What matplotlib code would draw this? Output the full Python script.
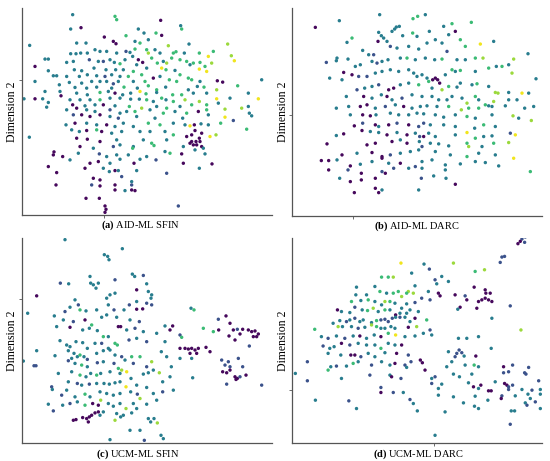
import matplotlib
matplotlib.use("Agg")
from matplotlib import pyplot as plt
import numpy as np

plt.rcParams['font.family'] = ['Liberation Serif', 'DejaVu Serif']
plt.rcParams['mathtext.fontset'] = 'custom'
plt.rcParams['mathtext.rm'] = 'Liberation Serif'
plt.rcParams['mathtext.bf'] = 'Liberation Serif:bold'

# class code -> position on the viridis scale
class_value = {'P': 0.02, 'B': 0.25, 'T': 0.42, 'G': 0.68, 'L': 0.85, 'Y': 0.98}

titles = ['(a)', '(b)', '(c)', '(d)']
names = ['AID-ML SFIN', 'AID-ML DARC', 'UCM-ML SFIN', 'UCM-ML DARC']

aid_sfin = [
    (218,45,'T'),(345,50,'G'),(350,60,'G'),(482,62,'P'),(212,88,'T'),(243,84,'P'),(415,88,'T'),(432,100,'T'),
    (542,78,'T'),(545,88,'G'),(468,100,'G'),(485,107,'P'),(378,108,'G'),(313,112,'P'),(340,125,'P'),(348,132,'P'),
    (89,137,'T'),(230,130,'T'),(258,130,'T'),(405,125,'T'),(420,130,'G'),(445,120,'T'),(505,138,'L'),(567,133,'T'),
    (683,133,'L'),(285,150,'T'),(300,155,'T'),(320,155,'T'),(262,160,'T'),(242,160,'T'),(228,162,'T'),(212,162,'T'),
    (350,160,'T'),(378,155,'B'),(390,158,'T'),(405,148,'G'),(445,160,'L'),(440,150,'G'),(465,150,'T'),(480,160,'T'),
    (520,160,'G'),(528,156,'G'),(553,160,'T'),(598,160,'G'),(640,155,'G'),(625,170,'Y'),(694,168,'L'),(703,183,'Y'),
    (135,178,'T'),(145,178,'T'),(200,188,'T'),(220,185,'T'),(268,180,'B'),(295,185,'T'),(310,185,'B'),(330,180,'T'),
    (343,188,'T'),(360,192,'G'),(375,180,'T'),(398,170,'T'),(415,180,'P'),(428,188,'P'),(410,195,'T'),(455,175,'G'),
    (472,190,'G'),(490,185,'T'),(500,190,'L'),(515,175,'G'),(540,180,'G'),(560,185,'G'),(580,190,'G'),(600,188,'G'),
    (635,190,'L'),(105,200,'P'),(570,195,'T'),(223,210,'T'),(245,213,'T'),(282,205,'T'),(318,210,'T'),(347,210,'T'),
    (370,210,'T'),(400,215,'G'),(440,205,'T'),(485,205,'Y'),(498,210,'G'),(525,212,'T'),(598,208,'Y'),(620,215,'Y'),
    (615,200,'G'),(160,228,'T'),(170,228,'T'),(145,213,'T'),(200,230,'T'),(238,230,'T'),(262,225,'T'),(290,228,'T'),
    (315,230,'B'),(335,225,'T'),(360,230,'T'),(385,230,'G'),(425,225,'G'),(460,235,'P'),(480,230,'T'),(508,240,'G'),
    (540,225,'G'),(565,235,'G'),(575,240,'G'),(600,245,'T'),(105,245,'T'),(208,248,'T'),(245,250,'T'),(275,245,'T'),
    (300,245,'T'),(320,245,'T'),(340,252,'B'),(355,245,'T'),(400,245,'T'),(435,245,'G'),(530,245,'G'),(652,243,'P'),
    (668,247,'P'),(785,240,'T'),(178,255,'T'),(225,263,'T'),(260,265,'T'),(290,262,'T'),(335,265,'T'),(372,262,'G'),
    (412,265,'T'),(445,258,'G'),(497,262,'T'),(470,270,'G'),(592,260,'T'),(612,262,'G'),(713,258,'G'),(135,275,'T'),
    (180,275,'T'),(230,280,'T'),(262,285,'T'),(300,278,'G'),(325,275,'T'),(345,280,'P'),(368,285,'T'),(392,280,'T'),
    (420,275,'Y'),(438,282,'G'),(470,278,'T'),(485,295,'G'),(518,285,'G'),(545,285,'G'),(565,270,'T'),(580,280,'T'),
    (620,280,'T'),(650,270,'L'),(745,280,'T'),(72,297,'T'),(105,297,'P'),(128,297,'T'),(183,288,'P'),(210,300,'T'),
    (240,300,'T'),(270,300,'T'),(300,300,'G'),(330,295,'T'),(360,295,'T'),(392,298,'T'),(418,298,'T'),(440,300,'G'),
    (460,305,'T'),(498,300,'T'),(520,305,'G'),(555,300,'L'),(598,305,'L'),(650,297,'Y'),(690,295,'T'),(775,297,'Y'),
    (145,308,'T'),(218,315,'P'),(255,318,'T'),(285,315,'T'),(310,315,'P'),(345,318,'T'),(388,320,'G'),(425,325,'L'),
    (470,320,'T'),(500,325,'G'),(540,320,'T'),(575,315,'G'),(620,315,'G'),(655,310,'T'),(725,325,'L'),(745,320,'T'),
    (140,322,'T'),(200,330,'T'),(230,325,'P'),(260,330,'T'),(285,335,'T'),(330,330,'B'),(360,340,'T'),(380,335,'T'),
    (405,335,'G'),(450,330,'T'),(490,340,'G'),(525,335,'T'),(560,340,'G'),(595,335,'P'),(620,330,'G'),(675,328,'L'),
    (748,340,'T'),(220,345,'B'),(245,345,'P'),(270,350,'P'),(300,345,'P'),(330,350,'T'),(355,355,'B'),(410,350,'T'),
    (465,355,'T'),(548,355,'T'),(625,345,'T'),(675,352,'Y'),(755,348,'T'),(198,375,'T'),(225,370,'P'),(260,370,'T'),
    (290,375,'T'),(320,375,'P'),(345,380,'T'),(370,370,'T'),(400,380,'T'),(445,370,'G'),(480,375,'G'),(520,370,'T'),
    (555,375,'T'),(570,378,'Y'),(583,375,'P'),(603,372,'T'),(625,375,'T'),(662,370,'G'),(700,362,'B'),(740,388,'G'),
    (88,412,'T'),(215,390,'T'),(238,395,'T'),(260,392,'P'),(290,390,'G'),(305,395,'P'),(335,400,'T'),(365,395,'T'),
    (420,395,'T'),(450,395,'T'),(495,395,'T'),(520,405,'G'),(560,410,'P'),(575,405,'P'),(585,392,'P'),(598,415,'P'),
    (605,400,'P'),(630,410,'Y'),(648,405,'L'),(230,415,'P'),(262,418,'P'),(300,425,'P'),(350,420,'T'),(400,440,'T'),
    (430,420,'T'),(455,430,'G'),(462,437,'G'),(500,420,'T'),(570,430,'P'),(580,435,'P'),(590,435,'P'),(575,425,'P'),
    (588,425,'P'),(605,440,'P'),(600,425,'P'),(240,440,'P'),(280,445,'T'),(340,440,'B'),(360,435,'T'),(398,445,'G'),
    (495,455,'T'),(510,460,'G'),(550,440,'T'),(585,450,'T'),(610,445,'T'),(162,456,'P'),(188,470,'P'),(160,465,'P'),
    (235,460,'T'),(298,462,'B'),(320,470,'T'),(350,465,'T'),(385,465,'T'),(440,470,'T'),(545,462,'P'),(615,462,'T'),
    (145,500,'P'),(210,480,'T'),(270,490,'P'),(295,485,'P'),(330,490,'T'),(360,478,'T'),(402,490,'P'),(420,478,'T'),
    (468,480,'B'),(550,490,'P'),(598,505,'T'),(636,492,'P'),(170,518,'P'),(255,505,'P'),(310,505,'T'),(328,515,'T'),
    (345,512,'P'),(355,512,'T'),(410,512,'T'),(500,520,'B'),(280,535,'P'),(300,540,'P'),(365,530,'B'),(395,545,'T'),
    (168,555,'P'),(275,555,'B'),(300,558,'P'),(345,555,'P'),(395,555,'B'),(395,570,'P'),(345,570,'P'),(375,572,'T'),
    (405,572,'P'),(258,595,'P'),(298,595,'P'),(315,618,'P'),(318,628,'P'),(315,637,'P'),(535,618,'B'),
]

aid_darc = [
    (120,83,'P'),(192,63,'T'),(313,45,'T'),(413,57,'G'),(427,50,'G'),(450,45,'T'),(230,115,'G'),(215,128,'T'),
    (310,98,'T'),(318,108,'T'),(350,95,'T'),(363,82,'T'),(372,80,'T'),(358,88,'T'),(382,108,'T'),(412,100,'G'),
    (425,110,'T'),(462,95,'T'),(505,80,'T'),(530,72,'G'),(540,95,'P'),(520,105,'T'),(588,68,'G'),(153,188,'B'),
    (185,175,'T'),(183,183,'T'),(218,178,'T'),(262,152,'T'),(280,165,'T'),(295,165,'B'),(308,125,'P'),(325,115,'T'),
    (335,125,'T'),(345,140,'B'),(365,145,'T'),(400,140,'T'),(430,148,'T'),(455,130,'T'),(480,120,'T'),(500,130,'T'),
    (515,155,'B'),(555,120,'G'),(570,140,'G'),(615,133,'Y'),(655,125,'T'),(240,200,'T'),(255,195,'T'),(290,185,'T'),
    (305,190,'B'),(320,185,'T'),(338,180,'T'),(375,175,'T'),(395,175,'G'),(420,180,'T'),(450,175,'T'),(478,180,'T'),
    (500,178,'G'),(545,180,'T'),(570,180,'T'),(600,175,'G'),(623,175,'L'),(663,200,'T'),(700,195,'T'),(715,178,'L'),
    (758,162,'T'),(163,235,'T'),(205,218,'P'),(200,240,'T'),(230,225,'P'),(250,230,'B'),(275,230,'B'),(300,220,'T'),
    (320,215,'T'),(345,210,'T'),(370,215,'T'),(400,210,'T'),(415,220,'T'),(425,230,'T'),(440,225,'T'),(455,235,'T'),
    (472,240,'P'),(480,235,'P'),(487,240,'P'),(493,250,'P'),(510,225,'T'),(530,210,'G'),(540,215,'T'),(555,212,'G'),
    (600,215,'T'),(640,205,'G'),(680,200,'G'),(710,220,'L'),(782,237,'T'),(245,270,'B'),(268,265,'T'),(290,260,'T'),
    (310,255,'B'),(340,270,'P'),(355,265,'P'),(375,255,'T'),(400,250,'T'),(430,255,'G'),(460,245,'G'),(470,265,'T'),
    (500,270,'L'),(520,260,'G'),(545,262,'T'),(555,250,'T'),(590,255,'T'),(605,252,'G'),(640,260,'T'),(660,278,'L'),
    (668,280,'L'),(700,278,'T'),(740,280,'Y'),(760,280,'T'),(213,290,'T'),(265,290,'P'),(290,295,'T'),(318,285,'T'),
    (335,290,'P'),(350,300,'T'),(380,295,'B'),(410,285,'T'),(440,290,'T'),(470,290,'T'),(490,300,'T'),(515,300,'T'),
    (530,290,'T'),(560,295,'T'),(575,310,'L'),(600,290,'G'),(610,300,'T'),(630,315,'G'),(655,305,'L'),(650,320,'T'),
    (700,300,'T'),(725,300,'T'),(183,325,'T'),(220,320,'T'),(255,320,'P'),(275,315,'P'),(300,325,'T'),(330,320,'B'),
    (360,315,'T'),(385,320,'P'),(410,325,'T'),(435,320,'T'),(455,318,'T'),(485,320,'T'),(520,320,'G'),(558,330,'L'),
    (580,325,'G'),(610,325,'G'),(640,318,'T'),(690,318,'T'),(748,325,'T'),(775,320,'T'),(225,345,'T'),(262,345,'P'),
    (285,348,'P'),(302,345,'T'),(345,340,'T'),(370,345,'T'),(400,345,'T'),(425,340,'T'),(445,342,'T'),(480,345,'T'),
    (505,352,'T'),(540,345,'T'),(575,350,'G'),(600,355,'T'),(650,345,'T'),(713,348,'L'),(730,355,'T'),(768,362,'L'),
    (237,378,'P'),(262,370,'B'),(300,375,'P'),(310,380,'T'),(340,375,'P'),(365,370,'B'),(400,375,'P'),(430,380,'B'),
    (445,370,'B'),(465,375,'T'),(505,375,'T'),(540,380,'T'),(575,398,'Y'),(598,385,'T'),(625,375,'G'),(660,380,'T'),
    (705,400,'B'),(183,407,'T'),(205,402,'P'),(260,392,'P'),(285,395,'T'),(310,398,'T'),(335,405,'P'),(365,398,'T'),
    (395,405,'P'),(420,400,'T'),(433,410,'B'),(445,410,'P'),(460,400,'T'),(480,410,'T'),(540,405,'T'),(600,415,'G'),
    (625,410,'T'),(650,408,'T'),(720,405,'Y'),(155,432,'P'),(275,435,'P'),(300,430,'P'),(350,425,'P'),(375,420,'T'),
    (395,430,'P'),(432,425,'T'),(440,440,'B'),(465,430,'T'),(490,432,'T'),(520,438,'T'),(575,430,'G'),(580,440,'L'),
    (620,440,'T'),(655,430,'G'),(700,428,'L'),(200,465,'P'),(245,460,'T'),(290,458,'P'),(320,470,'P'),(345,465,'B'),
    (375,460,'T'),(405,455,'T'),(430,450,'T'),(480,455,'T'),(525,465,'T'),(575,470,'G'),(610,460,'T'),(660,465,'T'),
    (715,475,'Y'),(138,482,'P'),(160,482,'P'),(185,480,'T'),(225,498,'P'),(255,493,'T'),(290,485,'T'),(320,475,'P'),
    (340,490,'T'),(375,490,'P'),(420,500,'B'),(440,485,'T'),(470,480,'T'),(510,495,'T'),(555,492,'T'),(600,485,'T'),
    (630,488,'T'),(670,498,'T'),(160,510,'P'),(218,510,'B'),(258,520,'P'),(320,515,'B'),(330,520,'P'),(355,505,'B'),
    (400,505,'T'),(440,505,'T'),(510,510,'T'),(765,515,'G'),(193,535,'T'),(258,540,'P'),(300,535,'P'),(438,535,'B'),
    (475,528,'T'),(512,535,'T'),(225,545,'P'),(300,565,'P'),(310,578,'P'),(320,570,'T'),(430,570,'T'),(540,553,'P'),
    (237,578,'P'),
]

ucm_sfin = [
    (195,30,'T'),(367,57,'T'),(313,75,'T'),(323,80,'T'),(327,90,'T'),(270,140,'T'),(397,133,'T'),(404,140,'T'),
    (430,137,'B'),(181,160,'B'),(206,162,'T'),(272,160,'T'),(280,165,'T'),(295,160,'T'),(288,175,'T'),(345,150,'B'),
    (440,162,'T'),(110,198,'P'),(225,210,'T'),(235,225,'B'),(320,205,'T'),(330,195,'T'),(345,190,'T'),
    (410,180,'P'),(445,185,'T'),(455,195,'T'),(453,205,'T'),(440,220,'B'),(410,215,'T'),(83,250,'T'),(163,258,'T'),
    (195,245,'B'),(210,232,'T'),(240,240,'G'),(258,243,'T'),(290,240,'T'),(325,225,'T'),(342,240,'B'),(372,240,'T'),
    (388,225,'B'),(410,238,'P'),(428,237,'P'),(455,225,'B'),(573,235,'T'),(582,240,'G'),(190,270,'T'),(220,275,'B'),
    (255,270,'P'),(275,285,'G'),(305,262,'T'),(320,255,'T'),(350,262,'T'),(390,270,'T'),(418,275,'B'),(495,288,'T'),
    (518,288,'P'),(655,268,'B'),(678,258,'P'),(690,280,'P'),(170,290,'T'),(210,292,'P'),(248,300,'T'),(268,295,'T'),
    (292,302,'T'),(310,320,'G'),(325,320,'T'),(355,290,'P'),(362,290,'P'),(380,300,'T'),(405,295,'B'),(430,305,'T'),
    (470,310,'T'),(510,300,'P'),(540,315,'B'),(545,322,'G'),(610,295,'G'),(640,305,'G'),(656,300,'P'),(700,300,'P'),
    (712,298,'B'),(728,298,'P'),(745,300,'P'),(755,305,'P'),(765,303,'P'),(775,312,'P'),(770,320,'P'),(760,320,'P'),
    (180,332,'T'),(200,345,'T'),(210,350,'T'),(228,335,'T'),(248,338,'T'),(262,355,'T'),(285,340,'T'),(305,340,'B'),
    (325,355,'T'),(345,340,'G'),(352,345,'G'),(387,330,'B'),(410,325,'T'),(440,335,'B'),(495,335,'T'),(540,355,'P'),
    (555,355,'P'),(565,357,'P'),(575,355,'P'),(585,360,'P'),(590,370,'P'),(570,370,'P'),(595,355,'P'),(618,352,'P'),
    (630,365,'P'),(687,318,'P'),(705,330,'P'),(720,312,'P'),(748,348,'B'),(110,362,'T'),(165,377,'T'),(205,362,'T'),
    (222,370,'T'),(215,385,'T'),(232,380,'T'),(240,375,'G'),(252,380,'T'),(262,388,'B'),(290,370,'T'),(310,362,'T'),
    (330,360,'T'),(345,375,'T'),(365,380,'B'),(375,390,'T'),(395,380,'G'),(420,380,'G'),(455,395,'L'),(484,365,'T'),
    (500,380,'T'),(540,385,'T'),(575,385,'T'),(70,393,'T'),(102,407,'B'),(108,407,'B'),(205,392,'B'),(225,400,'T'),
    (245,405,'G'),(262,410,'T'),(292,398,'B'),(310,395,'T'),(342,400,'B'),(355,415,'G'),(365,420,'L'),(400,400,'B'),
    (440,410,'B'),(460,420,'T'),(478,428,'L'),(514,410,'T'),(665,390,'B'),(685,395,'B'),(675,405,'B'),(690,410,'B'),
    (715,385,'B'),(728,410,'B'),(668,425,'P'),(680,428,'P'),(690,420,'P'),(175,430,'T'),(215,425,'T'),(240,435,'G'),
    (258,440,'T'),(272,430,'T'),(290,435,'G'),(302,430,'T'),(330,425,'T'),(360,430,'T'),(380,425,'Y'),(393,445,'T'),
    (430,432,'T'),(445,428,'T'),(510,440,'T'),(578,443,'T'),(705,440,'P'),(712,445,'P'),(720,440,'B'),(738,435,'P'),
    (708,448,'P'),(155,470,'B'),(205,455,'T'),(232,460,'B'),(245,465,'T'),(268,462,'B'),(290,460,'T'),(312,460,'T'),
    (328,462,'T'),(345,458,'T'),(360,455,'T'),(378,470,'Y'),(410,465,'T'),(440,472,'T'),(488,455,'T'),(520,480,'T'),
    (680,462,'B'),(785,465,'B'),(157,478,'T'),(185,495,'B'),(200,480,'T'),(225,500,'T'),(255,492,'G'),(270,500,'T'),
    (300,485,'T'),(320,490,'T'),(340,495,'T'),(360,490,'T'),(392,485,'T'),(412,492,'B'),(420,505,'L'),(460,490,'T'),
    (488,485,'B'),(145,522,'T'),(160,542,'B'),(188,525,'T'),(210,520,'B'),(232,515,'T'),(255,525,'G'),(278,520,'P'),
    (295,525,'P'),(302,510,'L'),(325,520,'T'),(340,528,'T'),(360,520,'T'),(378,535,'L'),(400,520,'T'),(410,535,'T'),
    (440,522,'T'),(470,510,'T'),(220,570,'P'),(228,568,'P'),(248,562,'P'),(260,565,'P'),(268,560,'P'),(275,555,'P'),
    (285,548,'P'),(295,545,'P'),(265,575,'P'),(300,555,'T'),(310,545,'T'),(350,550,'T'),(370,555,'T'),(395,548,'T'),
    (445,565,'T'),(452,575,'T'),(462,565,'T'),(472,578,'L'),(345,570,'L'),(420,600,'T'),(390,600,'T'),(483,615,'T'),
    (490,625,'T'),(330,628,'T'),(433,630,'B'),(362,560,'T'),
]

ucm_darc = [
    (740,28,'B'),(750,22,'B'),(728,42,'P'),(748,38,'B'),(735,35,'P'),(680,82,'B'),(688,80,'B'),(675,98,'B'),
    (378,100,'Y'),(535,100,'L'),(447,103,'T'),(463,118,'B'),(600,125,'G'),(628,120,'L'),(410,130,'T'),(500,140,'T'),
    (520,155,'T'),(320,142,'G'),(340,142,'G'),(355,142,'L'),(245,172,'T'),(300,170,'T'),(420,168,'T'),(400,185,'L'),
    (395,190,'G'),(480,150,'B'),(485,162,'T'),(460,185,'T'),(490,190,'P'),(495,198,'P'),(597,172,'P'),(630,180,'P'),
    (632,190,'P'),(645,190,'P'),(243,195,'T'),(275,195,'T'),(315,185,'G'),(335,190,'T'),(355,190,'G'),(370,185,'G'),
    (415,190,'L'),(380,200,'L'),(465,210,'B'),(540,195,'P'),(575,210,'P'),(570,198,'B'),(620,210,'P'),(630,205,'P'),
    (640,210,'P'),(650,215,'P'),(610,215,'P'),(230,215,'G'),(258,212,'T'),(280,210,'G'),(300,215,'T'),(320,225,'T'),
    (345,215,'G'),(360,220,'T'),(330,215,'L'),(395,222,'T'),(420,218,'B'),(440,205,'B'),(555,232,'P'),(548,238,'T'),
    (605,235,'P'),(705,228,'B'),(188,240,'P'),(200,245,'T'),(225,248,'T'),(240,232,'B'),(262,240,'T'),(278,242,'G'),
    (295,235,'L'),(310,245,'T'),(330,240,'G'),(345,240,'T'),(362,255,'P'),(375,250,'T'),(395,250,'T'),(405,240,'T'),
    (380,235,'T'),(430,245,'T'),(175,280,'T'),(195,272,'T'),(215,275,'B'),(225,270,'T'),(240,265,'B'),(255,275,'T'),
    (265,270,'T'),(290,278,'T'),(305,272,'G'),(318,270,'B'),(330,268,'B'),(340,275,'B'),(352,265,'B'),(362,262,'T'),
    (375,262,'B'),(390,262,'T'),(405,275,'T'),(420,265,'P'),(455,270,'G'),(650,265,'T'),(190,290,'L'),(203,290,'T'),
    (230,290,'T'),(250,295,'B'),(270,292,'T'),(290,285,'L'),(305,290,'G'),(318,295,'T'),(330,295,'T'),(348,290,'T'),
    (360,295,'T'),(400,292,'P'),(425,290,'L'),(465,300,'B'),(120,298,'G'),(737,300,'L'),(140,320,'T'),(160,325,'B'),
    (185,318,'T'),(210,325,'B'),(235,318,'T'),(255,318,'P'),(275,325,'T'),(298,315,'T'),(318,320,'P'),(340,310,'G'),
    (362,315,'Y'),(390,320,'T'),(420,318,'T'),(445,310,'T'),(470,315,'T'),(550,325,'T'),(575,325,'T'),(610,320,'T'),
    (145,348,'B'),(165,355,'T'),(178,350,'T'),(200,340,'P'),(225,345,'B'),(250,340,'T'),(275,345,'T'),(300,345,'T'),
    (318,355,'G'),(340,340,'T'),(360,345,'T'),(380,345,'P'),(552,360,'B'),(560,368,'B'),(545,370,'B'),(648,355,'T'),
    (520,365,'T'),(160,370,'T'),(198,375,'T'),(228,375,'P'),(240,375,'P'),(258,380,'B'),(280,370,'T'),(300,380,'T'),
    (330,368,'T'),(365,370,'P'),(400,375,'B'),(408,395,'B'),(436,390,'P'),(442,398,'P'),(540,380,'B'),(567,378,'T'),
    (602,378,'P'),(98,395,'B'),(168,410,'T'),(185,408,'B'),(215,408,'T'),(235,400,'G'),(250,395,'T'),(290,405,'B'),
    (320,395,'T'),(345,405,'T'),(360,400,'P'),(390,405,'B'),(395,412,'T'),(450,420,'P'),(515,410,'T'),(530,395,'T'),
    (570,405,'T'),(597,405,'G'),(610,410,'T'),(685,410,'P'),(712,405,'B'),(760,412,'B'),(62,430,'T'),(160,420,'G'),
    (200,445,'T'),(285,435,'B'),(345,435,'T'),(350,440,'P'),(378,445,'B'),(470,445,'T'),(480,440,'B'),(535,432,'T'),
    (553,440,'T'),(590,432,'T'),(685,428,'B'),(700,425,'B'),(748,428,'B'),(752,432,'B'),(790,452,'B'),(98,452,'B'),
    (470,460,'B'),(500,462,'T'),(580,458,'T'),(617,465,'P'),(688,460,'P'),(695,465,'P'),(700,470,'B'),(712,465,'B'),
    (660,455,'T'),(318,472,'B'),(490,475,'T'),(595,470,'P'),(610,475,'T'),(640,482,'P'),(648,482,'P'),(700,478,'B'),
    (740,478,'T'),(770,480,'B'),(795,478,'T'),(318,487,'P'),(355,487,'B'),(385,487,'T'),(490,495,'T'),(535,500,'T'),
    (600,498,'T'),(680,497,'B'),(720,497,'T'),(758,492,'T'),(765,505,'T'),(795,492,'T'),(122,510,'T'),(222,512,'B'),
    (405,508,'B'),(415,520,'T'),(565,518,'T'),(598,528,'T'),(638,510,'T'),(678,505,'P'),(750,518,'T'),(780,515,'B'),
    (245,535,'T'),(427,542,'T'),(510,545,'T'),(610,535,'T'),(708,542,'T'),(718,542,'T'),(755,525,'B'),(795,535,'T'),
    (705,582,'B'),(480,615,'T'),
]

panels = [aid_sfin, aid_darc, ucm_sfin, ucm_darc]
# axis extents (dim1 range, dim2 range) per panel
x_ranges = [(66, 816), (50, 800), (66, 816), (52, 800)]
y_ranges = [(25, 645), (25, 648), (25, 638), (25, 638)]
single_ticks = [(312, 240), (233, 345), (None, 208), (478, 480)]

fig = plt.figure(figsize=(5.5, 4.61), dpi=100)
boxes = [
    [22 / 550, 1 - 215 / 461, 250 / 550, 207 / 461],
    [292 / 550, 1 - 216 / 461, 250 / 550, 208 / 461],
    [22 / 550, 1 - 443 / 461, 250 / 550, 205 / 461],
    [292 / 550, 1 - 443 / 461, 250 / 550, 205 / 461],
]
# caption centre (axes fraction) and vertical offset
caption_x = [0.472, 0.5, 0.464, 0.504]
caption_y = [-0.015, -0.015, -0.02, -0.02]

for i, pts in enumerate(panels):
    ax = fig.add_axes(boxes[i])
    xs = np.array([p[0] for p in pts])
    ys = np.array([p[1] for p in pts])
    cs = np.array([class_value[p[2]] for p in pts])
    ax.scatter(xs, ys, c=cs, cmap='viridis', vmin=0, vmax=1, s=6, linewidths=0)
    ax.set_xlim(*x_ranges[i])
    ax.set_ylim(y_ranges[i][1], y_ranges[i][0])
    for side in ['top', 'right']:
        ax.spines[side].set_visible(False)
    for side in ['left', 'bottom']:
        ax.spines[side].set_color('#555555')
        ax.spines[side].set_linewidth(0.9)
    tx, ty = single_ticks[i]
    ax.set_xticks([tx] if tx is not None else [])
    ax.set_yticks([ty])
    ax.set_xticklabels([])
    ax.set_yticklabels([])
    ax.tick_params(length=2, width=0.6, color='#555555')
    ax.set_ylabel('Dimension 2', fontsize=8.5)
    ax.yaxis.set_label_coords(-0.014, 0.5)
    ax.set_xlabel(r'$\mathbf{' + titles[i] + r'}$ ' + names[i], fontsize=7.5)
    ax.xaxis.set_label_coords(caption_x[i], caption_y[i])

fig.savefig('out.png', dpi=100)
